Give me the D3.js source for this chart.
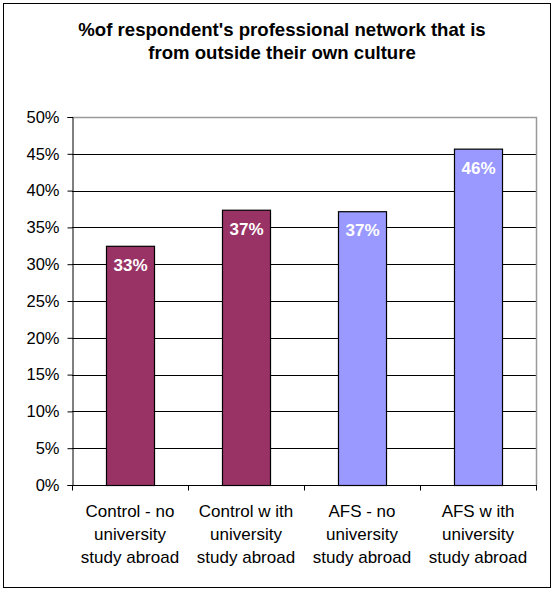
<!DOCTYPE html>
<html>
<head>
<meta charset="utf-8">
<script src="https://cdn.jsdelivr.net/npm/d3@7"></script>
<style>
  html, body { margin: 0; padding: 0; background: #fff; }
  svg { display: block; font-family: Arial, "Liberation Sans", sans-serif; }
</style>
</head>
<body>
<div id="chart"></div>
<script>
/* ============================
   DATA
============================ */
const categories = [
  ["Control - no", "university", "study abroad"],
  ["Control w ith", "university", "study abroad"],
  ["AFS - no", "university", "study abroad"],
  ["AFS w ith", "university", "study abroad"]
];
const values = [0.325, 0.374, 0.372, 0.457];
const valueLabels = ["33%", "37%", "37%", "46%"];
const barColors = ["#993366", "#993366", "#9999ff", "#9999ff"];
const yTicks = [0, 0.05, 0.1, 0.15, 0.2, 0.25, 0.3, 0.35, 0.4, 0.45, 0.5];
const titleLines = ["%of respondent's professional network that is", "from outside their own culture"];

/* ============================
   LAYOUT
============================ */
const W = 555, H = 592;
const plot = { left: 72, right: 536, top: 117, bottom: 485 };

const svg = d3.select("#chart").append("svg")
  .attr("width", W).attr("height", H);

// outer frame
svg.append("rect")
  .attr("x", 3.5).attr("y", 3.5)
  .attr("width", 547).attr("height", 584)
  .attr("fill", "#fff").attr("stroke", "#000").attr("stroke-width", 1);

// title
svg.append("g").selectAll("text")
  .data(titleLines)
  .enter().append("text")
  .attr("x", 282).attr("y", (d, i) => 36 + i * 23)
  .attr("text-anchor", "middle")
  .attr("font-size", 18.6).attr("font-weight", "bold")
  .text(d => d);

const x = d3.scaleBand()
  .domain(d3.range(categories.length))
  .range([plot.left, plot.right])
  .paddingInner(0.586).paddingOuter(0.293);

const y = d3.scaleLinear()
  .domain([0, 0.5])
  .range([plot.bottom, plot.top]);

// gridlines
svg.append("g").selectAll("line")
  .data(yTicks.filter(t => t > 0 && t < 0.5))
  .enter().append("line")
  .attr("x1", plot.left).attr("x2", plot.right)
  .attr("y1", d => Math.round(y(d)) + 0.5).attr("y2", d => Math.round(y(d)) + 0.5)
  .attr("stroke", "#000").attr("stroke-width", 1);

// plot area border (top/right) gray
svg.append("path")
  .attr("d", `M${plot.left},${plot.top + 0.5}H${plot.right + 0.5}V${plot.bottom}`)
  .attr("fill", "none").attr("stroke", "#9a9a9a").attr("stroke-width", 1.5);

// bars
svg.append("g").selectAll("rect")
  .data(values)
  .enter().append("rect")
  .attr("x", (d, i) => x(i) + 0.5)
  .attr("y", d => y(d) + 0.5)
  .attr("width", x.bandwidth())
  .attr("height", d => y(0) - y(d))
  .attr("fill", (d, i) => barColors[i])
  .attr("stroke", "#000").attr("stroke-width", 1.2);

// value labels
svg.append("g").selectAll("text")
  .data(values)
  .enter().append("text")
  .attr("x", (d, i) => x(i) + x.bandwidth() / 2 + 0.5)
  .attr("y", d => y(d) + 25)
  .attr("text-anchor", "middle")
  .attr("font-size", 17).attr("font-weight", "bold")
  .attr("fill", "#fff")
  .text((d, i) => valueLabels[i]);

// y axis
const yAxis = d3.axisLeft(y)
  .tickValues(yTicks)
  .tickFormat(d3.format(".0%"))
  .tickSize(5).tickPadding(8);

const gy = svg.append("g")
  .attr("transform", `translate(${plot.left + 0.5},0)`)
  .call(yAxis);
gy.select(".domain").attr("stroke", "#000");
gy.selectAll(".tick line").attr("stroke", "#000");
gy.selectAll(".tick text")
  .attr("font-size", 16.5).attr("font-family", "Arial, 'Liberation Sans', sans-serif")
  .attr("fill", "#000");

// x axis: ticks at band boundaries
const gx = svg.append("g")
  .attr("transform", `translate(0,${plot.bottom + 0.5})`);
gx.append("line")
  .attr("x1", plot.left).attr("x2", plot.right + 1)
  .attr("stroke", "#000");
const bounds = d3.range(categories.length + 1).map(i => plot.left + i * x.step());
gx.selectAll("line.tk")
  .data(bounds)
  .enter().append("line").attr("class", "tk")
  .attr("x1", d => Math.round(d) + 0.5).attr("x2", d => Math.round(d) + 0.5)
  .attr("y1", 0).attr("y2", 5)
  .attr("stroke", "#000");

// category labels
const cat = svg.append("g").selectAll("text")
  .data(categories)
  .enter().append("text")
  .attr("text-anchor", "middle")
  .attr("font-size", 17)
  .attr("x", (d, i) => x(i) + x.bandwidth() / 2);
cat.selectAll("tspan")
  .data(d => d)
  .enter().append("tspan")
  .attr("x", function () { return d3.select(this.parentNode).attr("x"); })
  .attr("y", (d, i) => 517 + i * 23)
  .text(d => d);
</script>
</body>
</html>
